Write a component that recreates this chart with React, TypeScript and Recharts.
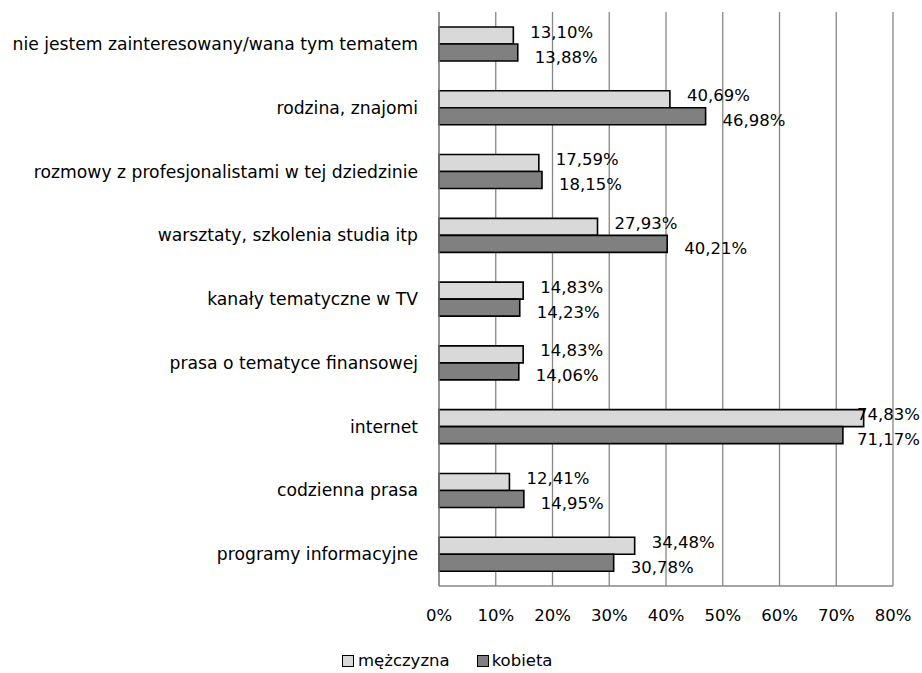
import React from 'react';
import { BarChart, Bar, XAxis, YAxis, CartesianGrid, Legend, LabelList } from 'recharts';

const categories = [
  'nie jestem zainteresowany/wana tym tematem',
  'rodzina, znajomi',
  'rozmowy z profesjonalistami w tej dziedzinie',
  'warsztaty, szkolenia studia itp',
  'kanały tematyczne w TV',
  'prasa o tematyce finansowej',
  'internet',
  'codzienna prasa',
  'programy informacyjne',
];
const mezczyzna = [13.1, 40.69, 17.59, 27.93, 14.83, 14.83, 74.83, 12.41, 34.48];
const kobieta = [13.88, 46.98, 18.15, 40.21, 14.23, 14.06, 71.17, 14.95, 30.78];
const xTicks = [0, 10, 20, 30, 40, 50, 60, 70, 80];
const seriesNames = { m: 'mężczyzna', k: 'kobieta' };

const data = categories.map((c, i) => ({ name: c, m: mezczyzna[i], k: kobieta[i] }));

const FONT = '"DejaVu Sans", sans-serif';
const LIGHT = '#d9d9d9';
const DARK = '#808080';
const GRID = '#878787';

const fmt = (v: number) => v.toFixed(2).replace('.', ',') + '%';

const makeLabel = (dy: number) => (props: any) => {
  const { x, y, width, height, value } = props;
  const end = Number(x) + Number(width);
  let tx = end + 17;
  let anchor: 'start' | 'end' = 'start';
  if (tx + 63 > 920) {
    tx = 920;
    anchor = 'end';
  }
  return (
    <text
      x={tx}
      y={Number(y) + Number(height) / 2 + dy}
      dominantBaseline="central"
      textAnchor={anchor}
      fontSize={16.5}
      fontFamily={FONT}
      fill="#000"
    >
      {fmt(Number(value))}
    </text>
  );
};

const LegendContent = () => (
  <div style={{ display: 'flex', alignItems: 'center', fontFamily: FONT, fontSize: 16.5, color: '#000', whiteSpace: 'nowrap', lineHeight: '20px' }}>
    <span style={{ display: 'inline-block', width: 10, height: 10, border: '1.5px solid #000', background: LIGHT, marginRight: 4 }} />
    <span style={{ marginRight: 27 }}>{seriesNames.m}</span>
    <span style={{ display: 'inline-block', width: 10, height: 10, border: '1.5px solid #000', background: DARK, marginRight: 3 }} />
    <span>{seriesNames.k}</span>
  </div>
);

export default function App() {
  return (
    <div style={{ position: 'fixed', left: 0, top: 0, width: 922, height: 673, background: '#fff' }}>
      <BarChart
        width={922}
        height={673}
        data={data}
        layout="vertical"
        barGap={0}
        margin={{ top: 12, right: 29, left: 0, bottom: 27 }}
      >
        <CartesianGrid horizontal={false} stroke={GRID} strokeWidth={1.3} />
        <XAxis
          type="number"
          domain={[0, 80]}
          ticks={xTicks}
          tickFormatter={(v: number) => v + '%'}
          axisLine={{ stroke: GRID, strokeWidth: 1.3 }}
          tickLine={false}
          tickSize={0}
          tickMargin={23}
          height={40}
          tick={{ fill: '#000', fontSize: 16.5, fontFamily: FONT }}
          interval={0}
        />
        <YAxis
          type="category"
          dataKey="name"
          width={439}
          axisLine={{ stroke: GRID, strokeWidth: 1.3 }}
          tickLine={false}
          tickSize={0}
          tickMargin={21}
          interval={0}
          tick={{ fill: '#000', fontSize: 17.2, fontFamily: FONT }}
        />
        <Legend
          verticalAlign="bottom"
          content={<LegendContent />}
          wrapperStyle={{ position: 'absolute', left: 342, top: 651, bottom: 'auto', width: 'auto', height: 'auto' }}
        />
        <Bar dataKey="m" name={seriesNames.m} fill={LIGHT} stroke="#000" strokeWidth={1.6} barSize={17} isAnimationActive={false}>
          <LabelList dataKey="m" content={makeLabel(-3.5)} />
        </Bar>
        <Bar dataKey="k" name={seriesNames.k} fill={DARK} stroke="#000" strokeWidth={1.6} barSize={17} isAnimationActive={false}>
          <LabelList dataKey="k" content={makeLabel(4.5)} />
        </Bar>
      </BarChart>
    </div>
  );
}
